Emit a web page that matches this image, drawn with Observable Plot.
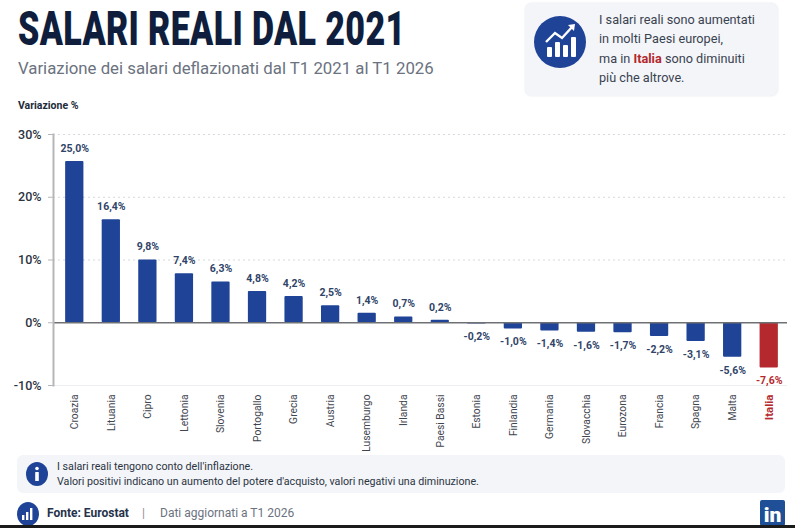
<!DOCTYPE html>
<html lang="it"><head><meta charset="utf-8">
<script src="https://cdn.jsdelivr.net/npm/d3@7"></script>
<script src="https://cdn.jsdelivr.net/npm/@observablehq/plot@0.6"></script>
<style>
html,body{margin:0;padding:0;background:#fff}
body{position:relative;width:795px;height:528px;overflow:hidden;font-family:Roboto,"Noto Sans",sans-serif;color:#2c3442}
.abs{position:absolute;white-space:nowrap}
#title{left:18px;top:1px;font:900 48px/56px Roboto,sans-serif;color:#0f1e3c;transform-origin:0 0;transform:scaleX(.71);letter-spacing:.5px}
#sub{left:18px;top:58px;font:400 16.8px/21px Roboto,sans-serif;color:#6b7280}
#ylab{left:18px;top:99px;font:700 10.5px/13px Roboto,sans-serif;color:#222b3a}
#box{left:525px;top:3px;width:253px;height:93px;background:#f3f5f9;border-radius:7px;box-shadow:0 0 2px #dfe3ea}
#boxtxt{left:599px;top:10px;font:400 12.7px/19.3px Roboto,sans-serif;color:#3a4250}
#boxtxt b{color:#b3282d;font-weight:700}
#note{left:17px;top:455px;width:768px;height:38px;background:#f3f5f9;border-radius:6px}
#notetxt{left:57px;top:460px;font:400 10.7px/14.5px Roboto,sans-serif;color:#2c3442}
#fonte{left:47px;top:506px;font:700 12px/14px Roboto,sans-serif;color:#26324a}
#sep{left:142px;top:506px;font:400 12px/14px Roboto,sans-serif;color:#8a909a}
#dati{left:160px;top:506px;font:400 12px/14px Roboto,sans-serif;color:#6b7280}
#band{left:0;top:525px;width:795px;height:3px;background:#1b1b1b}
#chart{left:0;top:100px}
svg.icon{position:absolute;overflow:visible}
</style></head><body>
<div class="abs" id="title">SALARI REALI DAL 2021</div>
<div class="abs" id="sub">Variazione dei salari deflazionati dal T1 2021 al T1 2026</div>
<div class="abs" id="ylab">Variazione %</div>
<div class="abs" id="box"></div>
<svg class="icon" style="left:533px;top:15px" width="54" height="54" viewBox="0 0 54 54">
  <circle cx="27" cy="27" r="26" fill="#1f4396"/>
  <g fill="#fff"><rect x="14" y="32" width="5" height="10" rx="1"/><rect x="22" y="27" width="5" height="15" rx="1"/><rect x="30" y="30" width="5" height="12" rx="1"/><rect x="38" y="22" width="5" height="20" rx="1"/></g>
  <path d="M13 27 L22 18 L29 23 L40 11" fill="none" stroke="#fff" stroke-width="2.4"/>
  <path d="M35 10 L42 9 L41 16 Z" fill="#fff"/>
</svg>
<div class="abs" id="boxtxt">I salari reali sono aumentati<br>in molti Paesi europei,<br>ma in <b>Italia</b> sono diminuiti<br>più che altrove.</div>
<div class="abs" id="chart"></div>
<div class="abs" id="note"></div>
<svg class="icon" style="left:25px;top:462px" width="24" height="24" viewBox="0 0 24 24">
  <ellipse cx="12" cy="12" rx="11" ry="12" fill="#1f4396"/>
  <circle cx="12" cy="6.5" r="1.8" fill="#fff"/><rect x="10.2" y="10" width="3.6" height="9" rx=".6" fill="#fff"/>
</svg>
<div class="abs" id="notetxt">I salari reali tengono conto dell'inflazione.<br>Valori positivi indicano un aumento del potere d'acquisto, valori negativi una diminuzione.</div>
<svg class="icon" style="left:17px;top:502px" width="22" height="24" viewBox="0 0 22 24">
  <ellipse cx="11" cy="12" rx="11" ry="12" fill="#1f4396"/>
  <g fill="#fff"><rect x="5" y="13" width="2.4" height="5"/><rect x="9" y="10" width="2.4" height="8"/><rect x="13" y="6" width="2.4" height="12"/></g>
</svg>
<div class="abs" id="fonte">Fonte: Eurostat</div>
<div class="abs" id="sep">|</div>
<div class="abs" id="dati">Dati aggiornati a T1 2026</div>
<svg class="icon" style="left:760px;top:500px" width="25" height="26" viewBox="0 0 25 26">
  <rect width="25" height="26" rx="2" fill="#1f4f96"/>
  <text x="12.5" y="22" text-anchor="middle" font-family="Roboto,sans-serif" font-weight="900" font-size="21" fill="#fff">in</text>
</svg>
<div class="abs" id="band"></div>
<script>
const countries = ["Croazia","Lituania","Cipro","Lettonia","Slovenia","Portogallo","Grecia","Austria","Lusemburgo","Irlanda","Paesi Bassi","Estonia","Finlandia","Germania","Slovacchia","Eurozona","Francia","Spagna","Malta","Italia"];
// Printed value labels
const printed = ["25,0%","16,4%","9,8%","7,4%","6,3%","4,8%","4,2%","2,5%","1,4%","0,7%","0,2%","-0,2%","-1,0%","-1,4%","-1,6%","-1,7%","-2,2%","-3,1%","-5,6%","-7,6%"];
// Bar lengths as drawn in the picture
const heights = [25.7,16.4,10,7.8,6.5,5,4.2,2.7,1.5,0.9,0.4,-0.2,-1.0,-1.3,-1.5,-1.6,-2.2,-3.0,-5.5,-7.2];
const yTicks = [-10,0,10,20,30];
const highlight = "Italia";
const others = countries.filter(c => c !== highlight);

const rows = countries.map((c,i) => ({c, h: heights[i], label: printed[i]}));
const barFill = d => d.c === highlight ? "#b5282e" : "#1f4396";
const labelFill = d => d.c === highlight ? "#b5282e" : "#2f4468";
const pos = rows.filter(d => d.h >= 0), neg = rows.filter(d => d.h < 0);

const chart = Plot.plot({
  width: 795, height: 360,
  marginLeft: 53, marginRight: 8, marginTop: 34, marginBottom: 75,
  style: {fontFamily: "Roboto, sans-serif", background: "transparent"},
  x: {domain: countries, paddingInner: 0.5, paddingOuter: 0.25, insetLeft: 3, round: false, label: null},
  y: {domain: [-10,30], label: null},
  color: {type: "identity"},
  marks: [
    Plot.ruleY(yTicks.filter(t => t > 0), {y: d => d, stroke: "#d5d8dd", strokeDasharray: "2,3", strokeWidth: 1}),
    Plot.ruleY([-10], {stroke: "#eceef1", strokeWidth: 1}),
    Plot.barY(rows, {x: "c", y1: 0, y2: "h", fill: barFill, rx: 1}),
    Plot.ruleY([0], {stroke: "#6f7073", strokeWidth: 1.5}),
    Plot.frame({anchor: "left", stroke: "#b4b6ba", strokeWidth: 2}),
    Plot.axisY({ticks: yTicks, tickSize: 5, tickPadding: 7, stroke: "#b4b6ba", tickFormat: d => d + "%", fontSize: 12.5, fontWeight: 500, fill: "#2c3442", label: null}),
    Plot.axisX({ticks: others, tickSize: 0, tickPadding: 9, tickRotate: -90, fontSize: 10.3, fill: "#3f4650", label: null}),
    Plot.axisX({ticks: [highlight], tickSize: 0, tickPadding: 9, tickRotate: -90, fontSize: 11.5, fontWeight: 700, fill: "#b5282e", label: null}),
    Plot.text(pos, {x: "c", y: "h", text: "label", dy: -13, fill: labelFill, fontSize: 10.5, fontWeight: 700}),
    Plot.text(neg, {x: "c", y: "h", text: "label", dy: 13, fill: labelFill, fontSize: 10.5, fontWeight: 700})
  ]
});
document.getElementById("chart").appendChild(chart);
</script>
</body></html>
